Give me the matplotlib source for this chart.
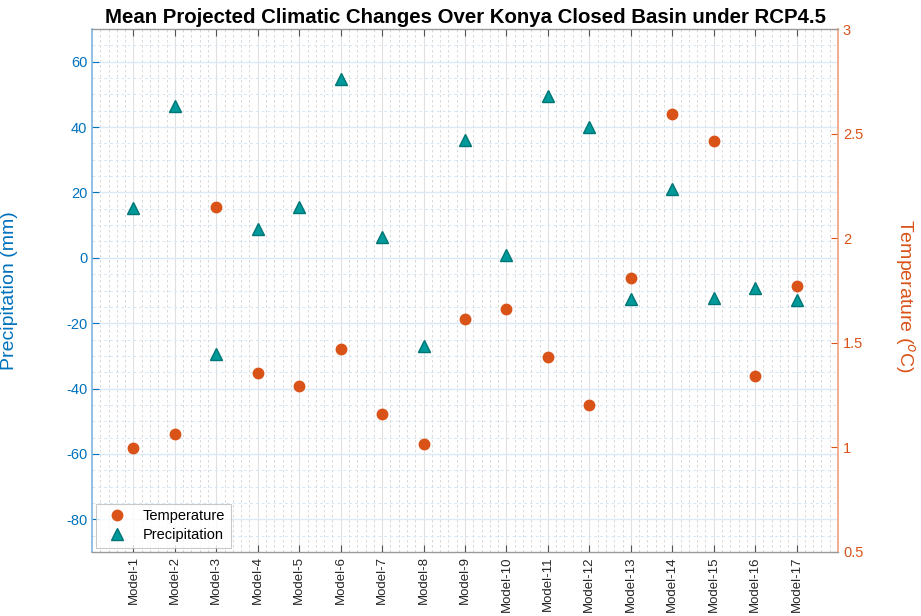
import numpy as np
import matplotlib.pyplot as plt
from matplotlib.ticker import MultipleLocator

plt.rcParams['font.family'] = ['Liberation Sans', 'DejaVu Sans']
plt.rcParams['axes.unicode_minus'] = False

# Data
models = ['Model-%d' % i for i in range(1, 18)]
precip = [15.2, 46.5, -29.3, 8.8, 15.6, 54.7, 6.3, -27.0, 36.0, 1.0,
          49.5, 40.1, -12.5, 21.0, -12.3, -9.1, -12.9]
temp = [0.995, 1.065, 2.147, 1.357, 1.292, 1.470, 1.160, 1.015, 1.614, 1.662,
        1.432, 1.204, 1.810, 2.594, 2.463, 1.339, 1.773]

blue = '#0072BD'
orange = '#D95319'
teal = '#009A9A'

x = np.arange(1, len(models) + 1)

fig = plt.figure(figsize=(9.21, 6.16), dpi=100)
ax1 = fig.add_axes([0.0999, 0.1039, 0.81, 0.849])
ax2 = ax1.twinx()

# precipitation on the left axis
ax1.set_xlim(0, 18)
ax1.set_ylim(-90, 70)
ax1.set_yticks(np.arange(-80, 61, 20))
ax1.yaxis.set_minor_locator(MultipleLocator(5))
ax1.set_xticks(x)
ax1.set_xticklabels(models, rotation=90, fontsize=9.5, color='#262626')
ax1.xaxis.set_minor_locator(MultipleLocator(0.2))
ax1.tick_params(axis='x', which='major', direction='in', length=5, top=True,
                color='#555555', pad=3)
ax1.tick_params(axis='x', which='minor', length=0)
ax1.tick_params(axis='y', which='major', direction='in', length=5,
                colors=blue, labelsize=10.5)
ax1.tick_params(axis='y', which='minor', length=0)
ax1.set_axisbelow(True)
ax1.grid(True, axis='x', which='major', color='#e0e0e0', linewidth=0.8)
ax1.grid(True, axis='x', which='minor', color='#d2d2d2', linewidth=0.6,
         linestyle=(0, (3, 3)))
ax1.grid(True, axis='y', which='major', color='#dbeaf6', linewidth=1.0)
ax1.grid(True, axis='y', which='minor', color='#d6e7f5', linewidth=0.7,
         linestyle=(0, (3, 3)))
ax1.set_ylabel('Precipitation (mm)', color=blue, fontsize=14)
ax1.yaxis.set_label_coords(-0.099, 0.5)

# temperature on the right axis
ax2.set_ylim(0.5, 3)
ax2.set_yticks(np.arange(0.5, 3.01, 0.5))
ax2.set_yticklabels(['0.5', '1', '1.5', '2', '2.5', '3'])
ax2.tick_params(axis='y', direction='in', length=5, colors=orange, labelsize=10.5)
ax2.set_ylabel('Temperature ($^{o}$C)', color=orange, fontsize=14, rotation=270,
               va='center')
ax2.yaxis.set_label_coords(1.09, 0.49)

for side in ['top', 'bottom']:
    ax2.spines[side].set_color('#999999')
ax2.spines['left'].set_color('#7fb5e0')
ax2.spines['right'].set_color('#f0a07e')
ax2.spines['left'].set_linewidth(1.2)
ax2.spines['right'].set_linewidth(1.2)
ax1.spines['left'].set_visible(False)
ax1.spines['right'].set_visible(False)

h1, = ax2.plot(x, temp, 'o', color=orange, markersize=7.5, label='Temperature',
               zorder=5)
h2 = ax1.plot(x, precip, '^', markerfacecolor=teal, markeredgecolor='#007575',
              markersize=8.5, label='Precipitation', linestyle='none')[0]

ax1.set_title('Mean Projected Climatic Changes Over Konya Closed Basin under RCP4.5',
              fontsize=14.7, fontweight='bold', pad=4)

leg = ax2.legend([h1, h2], ['Temperature', 'Precipitation'], loc='lower left',
                 fontsize=10.5, frameon=True, fancybox=False, borderaxespad=0.3,
                 handletextpad=0.8, borderpad=0.4, labelspacing=0.3)
leg.get_frame().set_edgecolor('#bbbbbb')
leg.get_frame().set_linewidth(0.8)

fig.savefig('out.png', dpi=100)
